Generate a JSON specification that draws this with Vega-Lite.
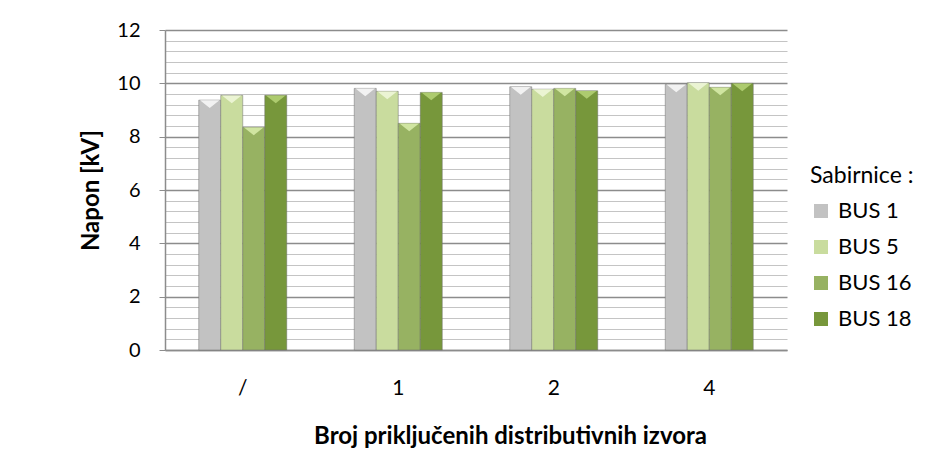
{
  "$schema": "https://vega.github.io/schema/vega-lite/v6.json",
  "width": 622,
  "height": 320,
  "autosize": {"type": "none"},
  "padding": {"left": 165, "top": 30, "right": 147, "bottom": 118},
  "background": "white",
  "config": {
    "font": "Lato",
    "view": {"stroke": null}
  },
  "data": {
    "values": [
      {"grupa": "/", "bus": "BUS 1", "napon": 9.37},
      {"grupa": "/", "bus": "BUS 5", "napon": 9.55},
      {"grupa": "/", "bus": "BUS 16", "napon": 8.35},
      {"grupa": "/", "bus": "BUS 18", "napon": 9.55},
      {"grupa": "1", "bus": "BUS 1", "napon": 9.81},
      {"grupa": "1", "bus": "BUS 5", "napon": 9.7},
      {"grupa": "1", "bus": "BUS 16", "napon": 8.5},
      {"grupa": "1", "bus": "BUS 18", "napon": 9.66},
      {"grupa": "2", "bus": "BUS 1", "napon": 9.87},
      {"grupa": "2", "bus": "BUS 5", "napon": 9.78},
      {"grupa": "2", "bus": "BUS 16", "napon": 9.81},
      {"grupa": "2", "bus": "BUS 18", "napon": 9.72},
      {"grupa": "4", "bus": "BUS 1", "napon": 9.96},
      {"grupa": "4", "bus": "BUS 5", "napon": 10.02},
      {"grupa": "4", "bus": "BUS 16", "napon": 9.85},
      {"grupa": "4", "bus": "BUS 18", "napon": 10.0}
    ]
  },
  "encoding": {
    "x": {
      "field": "grupa",
      "type": "nominal",
      "sort": ["/", "1", "2", "4"],
      "scale": {"paddingInner": 0.434, "paddingOuter": 0.217},
      "axis": {
        "title": "Broj priključenih distributivnih izvora",
        "labelAngle": 0,
        "labelFont": "Lato",
        "labelFontSize": 21,
        "labelColor": "#000000",
        "labelPadding": 27,
        "ticks": false,
        "domainColor": "#8c8c8c",
        "domainWidth": 1.5,
        "titleFont": "Lato",
        "titleFontSize": 24,
        "titleFontWeight": "bold",
        "titleColor": "#000000",
        "titlePadding": 26,
        "titleX": 345
      }
    },
    "xOffset": {
      "field": "bus",
      "type": "nominal",
      "sort": ["BUS 1", "BUS 5", "BUS 16", "BUS 18"],
      "scale": {"paddingInner": 0, "paddingOuter": 0}
    },
    "y": {
      "field": "napon",
      "type": "quantitative",
      "scale": {"domain": [0, 12], "nice": false},
      "axis": {
        "title": "Napon [kV]",
        "values": [0, 0.4, 0.8, 1.2, 1.6, 2, 2.4, 2.8, 3.2, 3.6, 4, 4.4, 4.8, 5.2, 5.6, 6, 6.4, 6.8, 7.2, 7.6, 8, 8.4, 8.8, 9.2, 9.6, 10, 10.4, 10.8, 11.2, 11.6, 12],
        "labelExpr": "datum.value % 2 === 0 ? format(datum.value, 'd') : ''",
        "grid": true,
        "gridColor": {"condition": {"test": "datum.value % 2 === 0", "value": "#8c8c8c"}, "value": "#c4c4c4"},
        "gridWidth": {"condition": {"test": "datum.value % 2 === 0", "value": 1.5}, "value": 1.2},
        "tickColor": {"condition": {"test": "datum.value % 2 === 0", "value": "#8c8c8c"}, "value": "transparent"},
        "tickSize": 6,
        "domainColor": "#8c8c8c",
        "domainWidth": 1.5,
        "labelFont": "Lato",
        "labelFontSize": 20,
        "labelColor": "#000000",
        "labelPadding": 19,
        "titleFont": "Lato",
        "titleFontSize": 24,
        "titleFontWeight": "bold",
        "titleColor": "#000000",
        "titlePadding": 13
      }
    }
  },
  "layer": [
    {
      "mark": {"type": "bar", "stroke": "#6b6b6b", "strokeWidth": 0.8, "strokeOpacity": 0.6},
      "encoding": {
        "color": {
          "field": "bus",
          "type": "nominal",
          "sort": ["BUS 1", "BUS 5", "BUS 16", "BUS 18"],
          "scale": {
            "domain": ["BUS 1", "BUS 5", "BUS 16", "BUS 18"],
            "range": ["#c2c2c2", "#c9dc9e", "#97b262", "#77973b"]
          },
          "legend": {
            "title": "Sabirnice :",
            "orient": "none",
            "legendX": 645,
            "legendY": 135,
            "titleFont": "Lato",
            "titleFontSize": 23,
            "titleFontWeight": "normal",
            "titleColor": "#000000",
            "titlePadding": 12,
            "labelFont": "Lato",
            "labelFontSize": 22,
            "labelColor": "#000000",
            "labelOffset": 6,
            "symbolType": "square",
            "symbolSize": 196,
            "symbolStrokeWidth": 0,
            "rowPadding": 14,
            "padding": 0
          }
        }
      }
    },
    {
      "mark": {"type": "point", "shape": "M-1,-0.4L1,-0.4L0,0.4Z", "filled": true, "size": 380, "yOffset": 4, "opacity": 0.9},
      "encoding": {
        "color": {
          "field": "bus",
          "type": "nominal",
          "scale": {
            "domain": ["BUS 1", "BUS 5", "BUS 16", "BUS 18"],
            "range": ["#f7f7f7", "#eef6d8", "#d6eaa8", "#b3d074"]
          },
          "legend": null
        }
      }
    }
  ],
  "resolve": {"scale": {"color": "independent"}}
}
